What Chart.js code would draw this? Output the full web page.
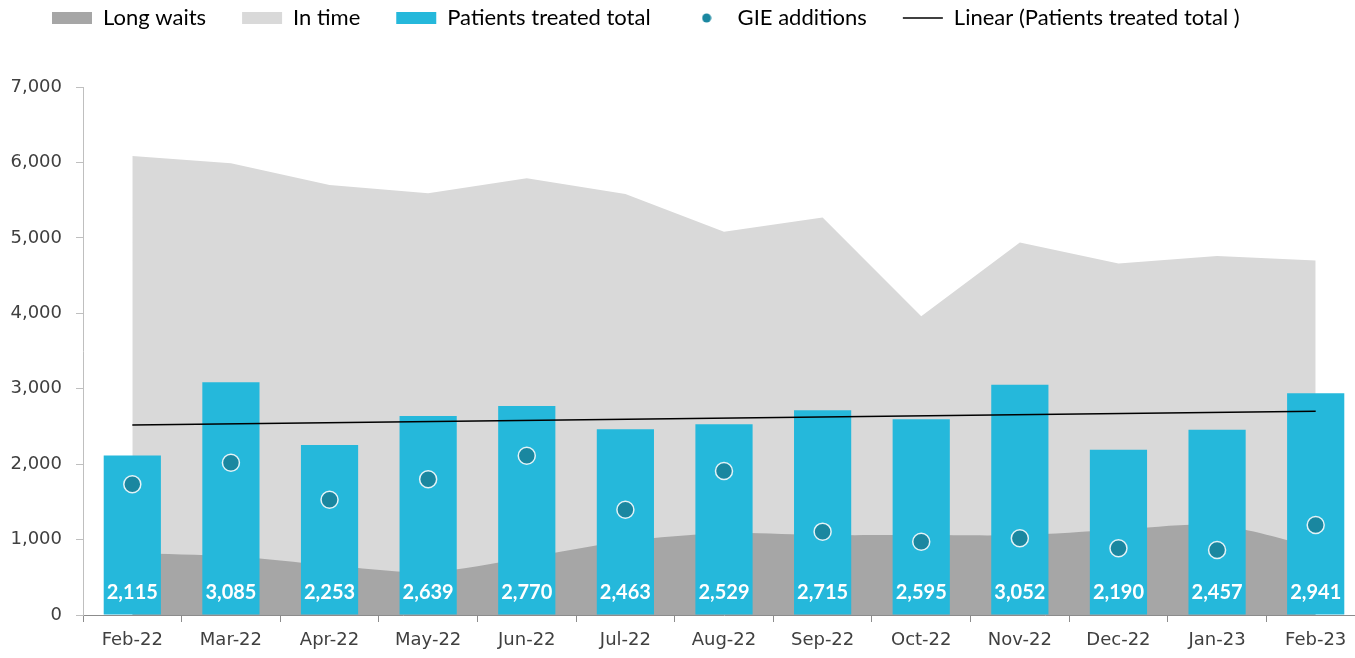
<!DOCTYPE html>
<html>
<head>
<meta charset="utf-8">
<script src="https://cdn.jsdelivr.net/npm/chart.js@4.4.1/dist/chart.umd.min.js"></script>
<style>
  html, body { margin: 0; padding: 0; background: #fff; overflow: hidden; }
</style>
</head>
<body>
<canvas id="myChart" width="1375" height="658"></canvas>
<script>
/* datos */
const months = ['Feb-22', 'Mar-22', 'Apr-22', 'May-22', 'Jun-22', 'Jul-22', 'Aug-22',
                'Sep-22', 'Oct-22', 'Nov-22', 'Dec-22', 'Jan-23', 'Feb-23'];
const longWaits = [820, 780, 660, 570, 760, 980, 1085, 1060, 1060, 1060, 1130, 1190, 900];
const inTime = [5265, 5210, 5040, 5020, 5030, 4600, 3995, 4210, 2900, 3880, 3530, 3570, 3800];
const patientsTreated = [2115, 3085, 2253, 2639, 2770, 2463, 2529, 2715, 2595, 3052, 2190, 2457, 2941];
const gieAdditions = [1733, 2019, 1529, 1799, 2112, 1396, 1909, 1105, 972, 1017, 884, 862, 1193];
const trendLine = [2518, null, null, null, null, null, null, null, null, null, null, null, 2700];

/* colores */
const darkGrey = '#a6a6a6';
const lightGrey = '#d9d9d9';
const blue = '#25b8db';
const teal = '#1a87a0';

/* total apilado para el area "In time" */
const inTimeTop = inTime.map((v, i) => v + longWaits[i]);

/* punto de la leyenda para GIE */
const dot = document.createElement('canvas');
dot.width = 10; dot.height = 10;
const dctx = dot.getContext('2d');
dctx.fillStyle = teal;
dctx.beginPath();
dctx.arc(5, 5, 4.5, 0, Math.PI * 2);
dctx.fill();

const fmt = (v) => v.toLocaleString('en-US');

/* etiquetas blancas dentro de las barras */
const barLabels = {
    id: 'barLabels',
    afterDatasetsDraw(chart) {
        const meta = chart.getDatasetMeta(2);
        const ctx = chart.ctx;
        ctx.save();
        ctx.font = 'bold 20px Lato';
        ctx.fillStyle = '#ffffff';
        ctx.textAlign = 'center';
        ctx.textBaseline = 'middle';
        meta.data.forEach((bar, i) => {
            ctx.fillText(fmt(patientsTreated[i]), bar.x, bar.base - 22);
        });
        ctx.restore();
    }
};

/* espacio entre leyenda y grafico, y leyenda algo mas a la derecha */
const legendGap = {
    id: 'legendGap',
    beforeInit(chart) {
        const fit = chart.legend.fit;
        chart.legend.fit = function () {
            fit.bind(chart.legend)();
            this.height = 116;
        };
    },
    afterLayout(chart) {
        chart.legend.left = 16;
    }
};

const ctx = document.getElementById('myChart');

new Chart(ctx, {
    type: 'bar',
    data: {
        labels: months,
        datasets: [
            {
                type: 'line',
                label: 'Long waits',
                data: longWaits,
                backgroundColor: darkGrey,
                borderWidth: 0,
                pointRadius: 0,
                tension: 0.3,
                fill: 'origin',
                order: 4
            },
            {
                type: 'line',
                label: 'In time',
                data: inTimeTop,
                backgroundColor: lightGrey,
                borderWidth: 0,
                pointRadius: 0,
                tension: 0,
                fill: 'origin',
                order: 5
            },
            {
                type: 'bar',
                label: 'Patients treated total',
                data: patientsTreated,
                backgroundColor: blue,
                barPercentage: 0.58,
                categoryPercentage: 1,
                order: 3
            },
            {
                type: 'line',
                label: 'GIE additions',
                data: gieAdditions,
                showLine: false,
                pointRadius: 8.5,
                pointBackgroundColor: teal,
                pointBorderColor: '#e4f3f7',
                pointBorderWidth: 1.5,
                order: 1
            },
            {
                type: 'line',
                label: 'Linear (Patients treated total )',
                data: trendLine,
                spanGaps: true,
                borderColor: '#000000',
                borderWidth: 1.5,
                pointRadius: 0,
                fill: false,
                order: 2
            }
        ]
    },
    options: {
        responsive: false,
        animation: false,
        layout: { padding: { top: -29, left: 4, right: 10, bottom: 0 } },
        plugins: {
            tooltip: { enabled: false },
            legend: {
                position: 'top',
                align: 'start',
                labels: {
                    usePointStyle: true,
                    pointStyleWidth: 40,
                    boxHeight: 12,
                    padding: 36,
                    color: '#262626',
                    font: { family: 'Lato', size: 22 },
                    generateLabels: () => [
                        { text: 'Long waits', fillStyle: darkGrey, strokeStyle: darkGrey, lineWidth: 0, pointStyle: 'rect', datasetIndex: 0, hidden: false },
                        { text: 'In time', fillStyle: lightGrey, strokeStyle: lightGrey, lineWidth: 0, pointStyle: 'rect', datasetIndex: 1, hidden: false },
                        { text: 'Patients treated total', fillStyle: blue, strokeStyle: blue, lineWidth: 0, pointStyle: 'rect', datasetIndex: 2, hidden: false },
                        { text: 'GIE additions', fillStyle: teal, strokeStyle: teal, lineWidth: 0, pointStyle: dot, datasetIndex: 3, hidden: false },
                        { text: 'Linear (Patients treated total )', fillStyle: '#000', strokeStyle: '#000', lineWidth: 1.5, pointStyle: 'line', datasetIndex: 4, hidden: false }
                    ]
                }
            }
        },
        scales: {
            x: {
                offset: true,
                grid: { offset: true, drawOnChartArea: false, drawTicks: true, tickLength: 7, color: '#8c8c8c' },
                border: { color: '#8c8c8c' },
                ticks: { color: '#404040', padding: 8, font: { family: 'DejaVu Sans', size: 18 }, maxRotation: 0 },
                afterFit: (s) => { s.height = 43; }
            },
            y: {
                min: 0,
                max: 7000,
                ticks: {
                    stepSize: 1000,
                    color: '#404040',
                    padding: 14,
                    font: { family: 'DejaVu Sans', size: 18 },
                    callback: (v) => fmt(v)
                },
                grid: { drawOnChartArea: false, drawTicks: true, tickLength: 7, color: '#bfbfbf' },
                border: { color: '#bfbfbf' },
                afterFit: (s) => { s.width = 79; }
            }
        }
    },
    plugins: [barLabels, legendGap]
});
</script>
</body>
</html>
